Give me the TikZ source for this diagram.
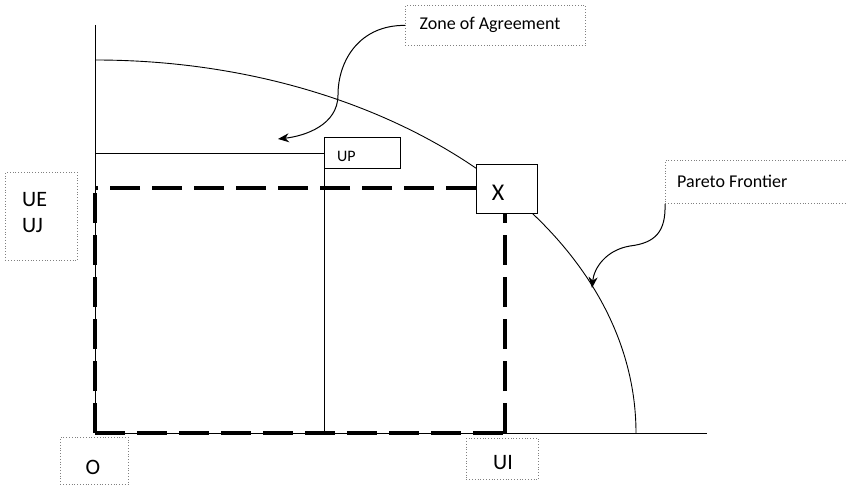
\documentclass[tikz,border=0pt]{standalone}
\usepackage{fontspec}
\setmainfont{Carlito}
\usetikzlibrary{arrows.meta}
\begin{document}
\begin{tikzpicture}[x=1pt,y=-1pt,
  thinline/.style={line width=0.9pt,black},
  dashline/.style={line width=3.2pt,black,dash pattern=on 30pt off 12pt},
  labelbox/.style={draw=gray,dotted,line width=0.8pt,fill=white,inner sep=0pt},
  solidbox/.style={draw=black,line width=1pt,fill=white,inner sep=0pt},
  txt/.style={inner sep=0pt},
  callout/.style={line width=1pt,-{Stealth[length=11pt,width=9pt]}}]
\useasboundingbox (0,0) rectangle (847,489);
% axes
\draw[thinline] (95,25) -- (95,433) -- (707,433);
% Pareto frontier (quarter ellipse)
\draw[thinline] (95,60) arc[start angle=90,end angle=0,x radius=541,y radius=-373];
% UP lines
\coordinate (upl) at (95,153);
\node[solidbox,minimum width=76pt,minimum height=31pt,anchor=north west] (up) at (324,137) {};
\node[txt,anchor=west,font=\fontsize{16}{16}\selectfont] (uptext) at (337,156) {UP};
\draw[thinline] (upl) -- (up.west |- upl);
\draw[thinline] (up.south west) -- (324,433);
% dashed zone
\coordinate (d1) at (95,188);
\coordinate (d2) at (476,188);
\coordinate (d3) at (505,213);
\coordinate (d4) at (505,433);
\coordinate (d0) at (95,433);
\draw[dashline] (d2) -- (d1);
\draw[dashline] (d0) -- (d1);
\draw[dashline] (d0) -- (d4);
\draw[dashline] (d4) -- (d3);
% X box
\node[solidbox,minimum width=61pt,minimum height=49pt,anchor=north west] (x) at (476,164) {};
\node[txt,font=\fontsize{24}{24}\selectfont] (xtext) at (498,193) {X};
% labels
\node[labelbox,minimum width=180pt,minimum height=40pt,anchor=north west] (zone) at (405,5) {};
\node[txt,font=\fontsize{18}{18}\selectfont] (zonetext) at (490,25) {Zone of Agreement};
\node[labelbox,minimum width=182pt,minimum height=43pt,anchor=north west] (pareto) at (665,160) {};
\node[txt,anchor=west,font=\fontsize{18}{18}\selectfont] (paretotext) at (677,181) {Pareto Frontier};
\node[labelbox,minimum width=72pt,minimum height=88pt,anchor=north west] (ue) at (5,172) {};
\node[txt,anchor=west,font=\fontsize{22}{26}\selectfont,align=left] (uetext) at (22,213) {UE\\UJ};
\node[labelbox,minimum width=68pt,minimum height=47pt,anchor=north west] (o) at (60,437) {};
\node[txt,font=\fontsize{22}{22}\selectfont] (otext) at (93,467) {O};
\node[labelbox,minimum width=72pt,minimum height=41pt,anchor=north west] (ui) at (466,438) {};
\node[txt,font=\fontsize{22}{22}\selectfont] (uitext) at (503,463) {UI};
% callout arrows
\coordinate (zt) at (278,139);
\coordinate (pt) at (592,288);
\draw[callout] (zone.west) .. controls (360,25) and (338,60) .. (338,95) .. controls (338,125) and (305,136) .. (zt);
\draw[callout] (pareto.south west) .. controls (666,232) and (655,243) .. (630,246) .. controls (606,250) and (594,268) .. (pt);
\end{tikzpicture}
\end{document}
